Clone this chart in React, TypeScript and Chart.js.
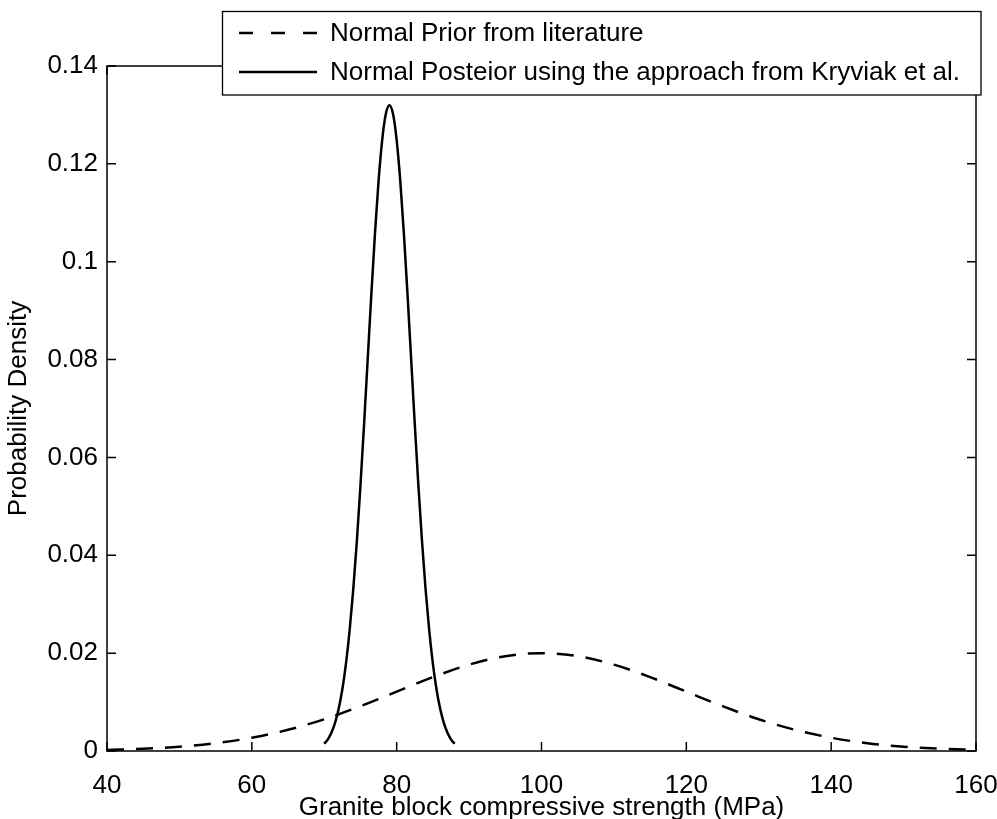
import React, { useEffect, useRef } from "react";
import { Chart, registerables } from "chart.js";

Chart.register(...registerables);

// Prior (dashed) curve
const priorX = [40, 45, 50, 55, 60, 65, 70, 75, 80, 85, 90, 95, 100, 105, 110, 115, 120, 125, 130, 135, 140, 145, 150, 155, 160];
const priorY = [0.00022, 0.00046, 0.00088, 0.00159, 0.00271, 0.00433, 0.00649, 0.00916, 0.01213, 0.0151, 0.01765, 0.01938, 0.02, 0.01938, 0.01765, 0.0151, 0.01213, 0.00916, 0.00649, 0.00433, 0.00271, 0.00159, 0.00088, 0.00046, 0.00022];

// Posterior (solid) curve
const postX = [70, 70.5, 71, 71.5, 72, 72.5, 73, 73.5, 74, 74.5, 75, 75.5, 76, 76.5, 77, 77.5, 78, 78.5, 79, 79.5, 80, 80.5, 81, 81.5, 82, 82.5, 83, 83.5, 84, 84.5, 85, 85.5, 86, 86.5, 87, 87.5, 88];
const postY = [0.00147, 0.00239, 0.00377, 0.0058, 0.00868, 0.01262, 0.01786, 0.02459, 0.03291, 0.04285, 0.05427, 0.06684, 0.08006, 0.09328, 0.1057, 0.11649, 0.12487, 0.13018, 0.132, 0.13018, 0.12487, 0.11649, 0.1057, 0.09328, 0.08006, 0.06684, 0.05427, 0.04285, 0.03291, 0.02459, 0.01786, 0.01262, 0.00868, 0.0058, 0.00377, 0.00239, 0.00147];

const xTicks = [40, 60, 80, 100, 120, 140, 160];
const yTicks = [0, 0.02, 0.04, 0.06, 0.08, 0.1, 0.12, 0.14];
const yTickLabels = ["0", "0.02", "0.04", "0.06", "0.08", "0.1", "0.12", "0.14"];
const seriesLabels = ["Normal Prior from literature", "Normal Posteior using the approach from Kryviak et al."];
const xTitle = "Granite block compressive strength (MPa)";
const yTitle = "Probability Density";

const FONT = "'Liberation Sans', Arial, Helvetica, sans-serif";

const framePlugin = {
  id: "frameTicks",
  afterDatasetsDraw(chart: any) {
    const { ctx, chartArea } = chart;
    const { left, right, top, bottom } = chartArea;
    const xs = chart.scales.x;
    const ys = chart.scales.y;
    ctx.save();
    ctx.strokeStyle = "#000";
    ctx.lineWidth = 1.5;
    ctx.strokeRect(left, top, right - left, bottom - top);
    const tl = 9;
    ctx.beginPath();
    xTicks.forEach((v) => {
      const px = xs.getPixelForValue(v);
      ctx.moveTo(px, bottom);
      ctx.lineTo(px, bottom - tl);
      ctx.moveTo(px, top);
      ctx.lineTo(px, top + tl);
    });
    yTicks.forEach((v) => {
      const py = ys.getPixelForValue(v);
      ctx.moveTo(left, py);
      ctx.lineTo(left + tl, py);
      ctx.moveTo(right, py);
      ctx.lineTo(right - tl, py);
    });
    ctx.stroke();
    ctx.restore();
  },
};

const legendPlugin = {
  id: "boxLegend",
  afterDraw(chart: any) {
    const { ctx } = chart;
    const bx = 222.5, by = 11.5, bw = 758.5, bh = 83.5;
    ctx.save();
    ctx.fillStyle = "#fff";
    ctx.fillRect(bx, by, bw, bh);
    ctx.strokeStyle = "#000";
    ctx.lineWidth = 1.3;
    ctx.strokeRect(bx, by, bw, bh);
    const rows = [33, 72];
    chart.data.datasets.forEach((ds: any, i: number) => {
      const y = rows[i];
      ctx.beginPath();
      ctx.lineWidth = 2.5;
      ctx.setLineDash(i === 0 ? [14, 18] : []);
      ctx.moveTo(239, y);
      ctx.lineTo(317, y);
      ctx.stroke();
      ctx.setLineDash([]);
      ctx.fillStyle = "#000";
      ctx.font = `26px ${FONT}`;
      ctx.textBaseline = "middle";
      ctx.textAlign = "left";
      ctx.fillText(ds.label, 330, y + 1);
    });
    ctx.restore();
  },
};

export default function App() {
  const ref = useRef<HTMLCanvasElement | null>(null);

  useEffect(() => {
    if (!ref.current) return;
    const chart = new Chart(ref.current, {
      type: "line",
      data: {
        datasets: [
          {
            label: seriesLabels[0],
            data: priorX.map((x, i) => ({ x, y: priorY[i] })),
            borderColor: "#000",
            borderWidth: 2.5,
            borderDash: [17, 12],
            pointRadius: 0,
            cubicInterpolationMode: "monotone",
            fill: false,
          },
          {
            label: seriesLabels[1],
            data: postX.map((x, i) => ({ x, y: postY[i] })),
            borderColor: "#000",
            borderWidth: 2.5,
            pointRadius: 0,
            cubicInterpolationMode: "monotone",
            fill: false,
          },
        ],
      },
      options: {
        animation: false,
        responsive: false,
        devicePixelRatio: 1,
        layout: { padding: { top: 66, right: 21, left: 0, bottom: 0 } },
        plugins: { legend: { display: false }, tooltip: { enabled: false } },
        font: { family: FONT, size: 26 },
        scales: {
          x: {
            type: "linear",
            min: 40,
            max: 160,
            afterBuildTicks: (s: any) => {
              s.ticks = xTicks.map((v) => ({ value: v }));
            },
            afterFit: (s: any) => {
              s.height = 68;
              s.paddingLeft = 0;
              s.paddingRight = 0;
            },
            grid: { display: false, drawTicks: false },
            border: { display: false },
            ticks: {
              color: "#000",
              font: { family: FONT, size: 26 },
              padding: 19,
              maxRotation: 0,
              callback: (v: any) => String(v),
            },
            title: {
              display: true,
              text: xTitle,
              color: "#000",
              font: { family: FONT, size: 26 },
              padding: { top: 0, bottom: -4 },
            },
          },
          y: {
            type: "linear",
            min: 0,
            max: 0.14,
            afterBuildTicks: (s: any) => {
              s.ticks = yTicks.map((v) => ({ value: v }));
            },
            afterFit: (s: any) => {
              s.width = 107;
              s.paddingTop = 0;
              s.paddingBottom = 0;
            },
            grid: { display: false, drawTicks: false },
            border: { display: false },
            ticks: {
              color: "#000",
              font: { family: FONT, size: 26 },
              padding: 9,
              callback: (_v: any, i: number) => yTickLabels[i],
            },
            title: {
              display: true,
              text: yTitle,
              color: "#000",
              font: { family: FONT, size: 26 },
              padding: { top: 3, bottom: 0 },
            },
          },
        },
      },
      plugins: [framePlugin, legendPlugin],
    } as any);
    return () => chart.destroy();
  }, []);

  return (
    <div style={{ position: "absolute", left: 0, top: 0, width: 997, height: 819, background: "#fff" }}>
      <canvas ref={ref} width={997} height={819} />
    </div>
  );
}
